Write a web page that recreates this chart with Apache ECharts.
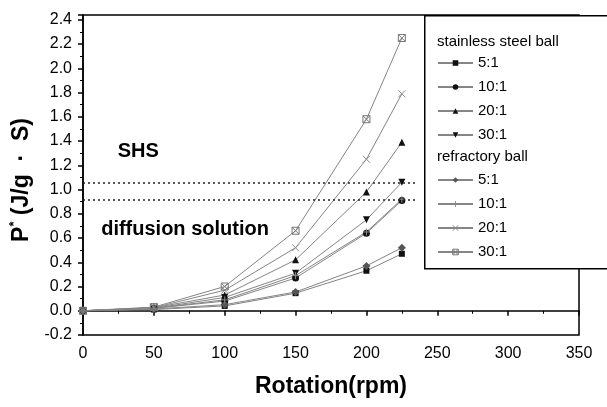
<!DOCTYPE html>
<html>
<head>
<meta charset="utf-8">
<script src="https://cdn.jsdelivr.net/npm/echarts@6/dist/echarts.min.js"></script>
<style>html,body{margin:0;padding:0;background:#fff}#c{width:607px;height:407px}</style>
</head>
<body>
<div id="c"></div>
<script>
var rotation = [0, 50, 100, 150, 200, 225];
var ss5  = [0, 0.010, 0.040, 0.145, 0.330, 0.470];
var ss10 = [0, 0.020, 0.080, 0.270, 0.640, 0.910];
var ss20 = [0, 0.025, 0.130, 0.420, 0.980, 1.390];
var ss30 = [0, 0.020, 0.110, 0.310, 0.750, 1.060];
var rf5  = [0, 0.015, 0.050, 0.155, 0.370, 0.520];
var rf10 = [0, 0.020, 0.090, 0.290, 0.650, 0.920];
var rf20 = [0, 0.025, 0.170, 0.520, 1.250, 1.790];
var rf30 = [0, 0.030, 0.200, 0.660, 1.580, 2.250];
var ratioLabels = ['5:1', '10:1', '20:1', '30:1'];
var groupTitles = ['stainless steel ball', 'refractory ball'];
var thresholdValues = [1.06, 0.915];
var thresholdEndX = 235;
var regionLabels = ['SHS', 'diffusion solution'];
var regionLabelPos = [[39, 1.31], [72, 0.67]];

function pts(arr){ return rotation.map(function(x,i){ return [x, arr[i]]; }); }
var lineGray = '#858585';
var boxX = 'path://M0,0L10,0L10,10L0,10ZM0,0L10,10M10,0L0,10';
var xPath = 'path://M0,0L10,10M10,0L0,10';
var plusPath = 'path://M5,0L5,10M0,5L10,5';
var hollow = function(c){ return {color: 'rgba(0,0,0,0)', borderColor: c, borderWidth: 1}; };

function mk(name, data, symbol, color, opts){
  var s = {
    name: name, type: 'line', data: pts(data), symbol: symbol, symbolSize: 7,
    lineStyle: {color: lineGray, width: 1},
    itemStyle: {color: color, borderColor: color, borderWidth: 0},
    emphasis: {disabled: true}, z: 3
  };
  if (opts) for (var k in opts) s[k] = opts[k];
  return s;
}
var series = [
  mk('ss|' + ratioLabels[0], ss5, 'rect', '#111', {symbolSize: 6}),
  mk('ss|' + ratioLabels[1], ss10, 'circle', '#111'),
  mk('ss|' + ratioLabels[2], ss20, 'triangle', '#111'),
  mk('ss|' + ratioLabels[3], ss30, 'triangle', '#111', {symbolRotate: 180}),
  mk('rf|' + ratioLabels[0], rf5, 'diamond', '#555', {symbolSize: 8}),
  mk('rf|' + ratioLabels[1], rf10, plusPath, '#888', {itemStyle: hollow('#888')}),
  mk('rf|' + ratioLabels[2], rf20, xPath, '#888', {itemStyle: hollow('#888')}),
  mk('rf|' + ratioLabels[3], rf30, boxX, '#777', {itemStyle: hollow('#777')})
];
series[0].markLine = {
  silent: true, symbol: 'none', label: {show: false},
  lineStyle: {color: '#222', type: [2, 3], width: 1.5},
  data: thresholdValues.map(function(v){ return [{coord: [0, v]}, {coord: [thresholdEndX, v]}]; })
};
series[0].markPoint = {
  silent: true, symbol: 'circle', symbolSize: 0,
  label: {show: true, position: 'inside', color: '#000', fontSize: 20, fontWeight: 'bold', fontFamily: 'Liberation Sans, Arial, sans-serif'},
  data: regionLabels.map(function(t, i){ return {coord: regionLabelPos[i], value: t, label: {formatter: t}}; })
};

var fam = 'Liberation Sans, Arial, sans-serif';
var legendCommon = {
  orient: 'vertical', left: 437, padding: 0, itemWidth: 35, itemHeight: 7, itemGap: 8, z: 60,
  textStyle: {fontSize: 15, color: '#000', fontFamily: fam, lineHeight: 16},
  formatter: function(n){ return n.split('|')[1]; }, selectedMode: false
};
function legendItems(list){
  return list.map(function(s){
    var o = {name: s.name, itemStyle: s.itemStyle};
    if (s.symbolRotate) o.symbolRotate = s.symbolRotate;
    return o;
  });
}
var chart = echarts.init(document.getElementById('c'), null, {renderer: 'canvas'});
chart.setOption({
  animation: false,
  backgroundColor: '#fff',
  grid: {left: 83, right: 28, top: 15, bottom: 72, show: true, borderColor: '#000', borderWidth: 1.5, backgroundColor: 'transparent'},
  xAxis: {
    type: 'value', min: 0, max: 350, interval: 50,
    name: 'Rotation(rpm)', nameLocation: 'middle', nameGap: 40,
    nameTextStyle: {fontSize: 23, fontWeight: 'bold', color: '#000', fontFamily: fam},
    axisLine: {lineStyle: {color: '#000', width: 1.5}},
    axisTick: {length: 5, lineStyle: {color: '#000', width: 1.5}},
    minorTick: {show: true, splitNumber: 2, length: 3, lineStyle: {color: '#000', width: 1}},
    axisLabel: {fontSize: 16, color: '#000', margin: 11, fontFamily: fam},
    splitLine: {show: false}
  },
  yAxis: {
    type: 'value', min: -0.2, max: 2.44, interval: 0.2,
    name: '{p|P}{s|*}{t| (J/g  ·  S)}', nameLocation: 'middle', nameGap: 44, nameRotate: 90,
    nameTextStyle: {
      padding: [0, 0, 0, -10],
      rich: {
        p: {fontSize: 23, fontWeight: 'bold', color: '#000', fontFamily: fam, lineHeight: 28},
        s: {fontSize: 13, fontWeight: 'bold', color: '#000', fontFamily: fam, verticalAlign: 'top', lineHeight: 28},
        t: {fontSize: 23, fontWeight: 'bold', color: '#000', fontFamily: fam, lineHeight: 28}
      }
    },
    axisLine: {onZero: false, lineStyle: {color: '#000', width: 1.5}},
    axisTick: {length: 5, lineStyle: {color: '#000', width: 1.5}},
    minorTick: {show: true, splitNumber: 2, length: 3, lineStyle: {color: '#000', width: 1}},
    axisLabel: {fontSize: 16, color: '#000', margin: 11, fontFamily: fam, showMaxLabel: false,
      formatter: function(v){ return v.toFixed(1); }},
    splitLine: {show: false}
  },
  legend: [
    Object.assign({}, legendCommon, {top: 55, data: legendItems(series.slice(0,4))}),
    Object.assign({}, legendCommon, {top: 172, data: legendItems(series.slice(4))})
  ],
  graphic: [
    {type: 'rect', left: 424, top: 15, z: 50, shape: {width: 200, height: 253},
     style: {fill: '#fff', stroke: '#000', lineWidth: 1.5}},
    {type: 'text', left: 437, top: 34, z: 60, style: {text: groupTitles[0], fontSize: 15, fill: '#000', fontFamily: fam}},
    {type: 'text', left: 437, top: 149, z: 60, style: {text: groupTitles[1], fontSize: 15, fill: '#000', fontFamily: fam}}
  ],
  series: series
});
</script>
</body>
</html>
